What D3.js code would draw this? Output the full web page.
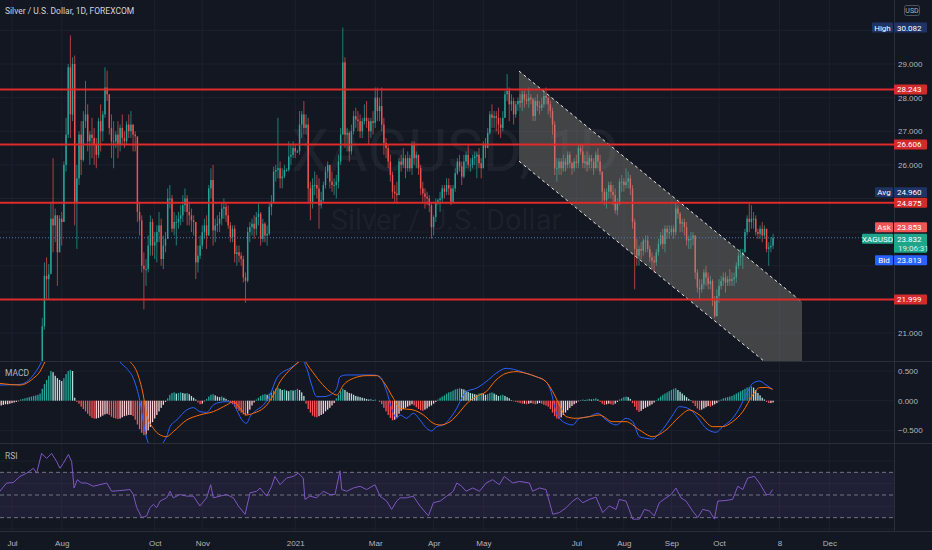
<!DOCTYPE html>
<html>
<head>
<meta charset="utf-8">
<title>XAGUSD 1D - FOREXCOM</title>
<script src="https://d3js.org/d3.v7.min.js"></script>
<style>
body { margin: 0; background: #131722; }
svg { display: block; font-family: Roboto, "Noto Sans", sans-serif; }
.axisText { fill: #b2b5be; font-size: 8px; }
.tagText { font-size: 8px; fill: #ffffff; }
</style>
</head>
<body>
<svg id="chart" width="932" height="550"></svg>
<script>

// ---- data: daily bars from 2020-06-24 (bar -5) to 2021-11-05 (bar 352) ----
var firstBar = -5;
var firstOpen = 17.65;

var closes = [
  17.70,17.85,17.75,17.90,18.20,
  // Jul 2020
  17.80,18.05,18.05,18.30,18.20,18.70,18.65,18.75,19.10,19.35,19.50,19.30,19.70,19.85,21.20,22.70,22.60,22.75,24.40,24.20,24.50,23.40,24.40,
  // Aug
  24.30,26.00,26.90,28.90,27.50,29.00,24.90,25.60,26.90,26.15,27.30,27.50,26.70,26.90,26.80,26.60,26.30,27.30,27.00,27.50,28.30,
  // Sep
  28.10,27.10,26.70,26.70,26.90,26.60,27.10,26.80,26.70,27.20,27.00,27.20,26.90,26.85,24.60,24.35,23.00,22.90,22.90,23.60,24.30,23.60,
  // Oct
  23.70,24.00,24.20,23.20,23.60,23.80,25.00,25.00,24.10,24.30,24.30,24.40,24.50,24.80,25.00,24.60,24.50,24.35,24.30,23.10,23.30,23.60,
  // Nov
  24.00,24.20,23.90,25.30,25.55,24.05,24.20,24.25,24.40,24.70,24.75,24.50,24.20,23.85,24.10,23.35,23.40,23.30,23.20,22.65,22.55,
  // Dec
  24.00,24.15,24.25,24.10,24.45,24.55,23.80,24.25,23.90,23.95,24.75,24.90,25.80,25.85,25.90,25.60,25.65,25.85,25.85,26.25,26.30,26.50,26.40,
  // Jan 2021
  26.40,27.20,27.50,27.10,27.20,25.30,24.90,25.40,25.40,25.30,24.80,24.95,25.40,25.80,26.00,25.50,25.40,25.40,25.50,26.10,26.90,
  // Feb
  29.05,26.90,26.95,26.40,27.00,27.45,27.35,27.30,27.00,27.30,27.40,27.30,27.00,27.30,27.25,28.00,27.60,27.75,27.20,26.65,
  // Mar
  26.50,26.10,25.70,25.20,25.15,25.10,26.10,26.00,26.20,25.90,26.20,25.90,26.60,26.20,26.30,25.90,25.30,25.15,25.05,25.00,24.80,24.15,24.45,
  // Apr
  24.90,24.95,25.00,25.30,25.20,25.40,25.30,24.90,25.30,25.75,26.10,25.95,25.65,26.10,26.30,26.00,26.00,26.20,26.25,26.30,26.05,25.90,
  // May
  26.60,26.50,26.95,27.50,27.40,27.45,27.40,27.20,27.10,27.40,28.10,28.20,27.80,27.90,27.50,27.80,27.90,27.85,28.10,27.95,27.90,
  // Jun
  28.00,27.95,27.45,27.90,27.75,27.70,27.80,28.05,28.00,27.80,27.60,27.20,25.90,25.90,26.10,25.90,26.10,26.00,26.30,26.05,25.90,26.10,
  // Jul
  26.05,26.50,26.40,26.05,26.10,26.00,26.20,26.10,25.90,26.30,26.10,25.80,25.20,24.95,25.20,25.40,25.20,25.10,24.65,24.85,25.50,25.50,
  // Aug
  25.40,25.50,25.60,25.30,24.30,23.50,23.30,23.50,23.45,23.75,23.75,23.50,23.25,23.15,23.10,23.40,23.65,23.90,23.65,24.10,24.00,24.00,
  // Sep
  24.10,24.00,24.70,24.55,24.25,24.30,24.15,23.75,23.80,23.80,23.90,22.80,22.35,22.30,22.45,22.80,22.65,22.45,22.55,21.95,21.50,22.10,
  // Oct
  22.40,22.55,22.65,22.50,22.60,22.55,22.60,22.65,23.00,23.30,23.30,23.40,24.00,24.40,24.30,24.40,24.40,24.00,23.95,24.10,23.90,
  // Nov
  24.10,23.50,23.55,23.60,23.832
];

var highs = [
  17.95,17.95,17.95,17.95,18.30,
  18.20,18.20,18.15,18.45,18.40,18.90,19.00,18.80,19.30,19.40,19.60,19.60,19.80,19.95,21.45,23.10,23.25,23.05,24.90,26.20,24.70,24.50,24.50,
  24.60,26.10,27.40,29.00,29.85,29.20,29.25,26.00,27.00,27.30,27.60,28.50,27.80,27.00,27.40,27.10,26.80,27.40,27.80,27.60,28.90,
  28.80,28.10,27.50,27.30,27.00,27.30,27.20,27.50,27.00,27.30,27.50,27.60,27.20,27.00,26.80,24.90,24.50,23.40,23.20,23.90,24.50,24.40,
  24.00,24.20,24.60,24.40,23.90,24.00,25.30,25.40,25.10,24.60,24.50,24.60,24.80,25.10,25.30,25.10,24.90,24.70,24.50,24.30,23.60,23.90,
  24.20,24.40,24.50,25.40,25.90,26.00,24.40,24.50,24.60,24.90,25.00,24.90,24.80,24.30,24.20,24.20,23.60,23.60,23.40,23.30,22.80,
  24.15,24.30,24.40,24.50,24.60,24.85,24.60,24.40,24.30,24.20,24.85,25.10,25.95,26.00,27.40,26.10,25.90,26.00,25.90,26.70,26.60,26.70,26.60,
  26.45,27.60,27.60,27.90,27.50,27.40,25.50,25.60,25.80,25.70,25.60,25.20,25.50,25.95,26.10,26.00,25.80,25.60,25.70,26.30,27.10,
  30.082,29.20,27.10,27.00,27.20,27.60,27.70,27.60,27.50,27.40,27.80,27.90,27.40,27.40,27.60,28.30,28.30,28.00,28.30,27.40,
  26.80,26.60,26.30,25.80,25.40,25.50,26.20,26.30,26.50,26.30,26.40,26.30,26.70,26.70,26.40,26.30,26.00,25.50,25.30,25.20,25.10,24.90,24.50,
  25.00,25.00,25.20,25.40,25.40,25.60,25.60,25.40,25.40,25.90,26.20,26.30,26.10,26.30,26.40,26.60,26.20,26.30,26.40,26.40,26.50,26.20,
  26.70,26.80,27.10,27.60,27.80,27.60,27.60,27.70,27.40,27.60,28.20,28.70,28.30,28.10,28.00,27.90,28.00,28.10,28.20,28.20,28.10,
  28.30,28.10,28.00,28.00,28.10,27.90,28.00,28.20,28.30,28.00,27.90,27.70,27.30,26.20,26.20,26.20,26.30,26.20,26.40,26.40,26.10,26.20,
  26.30,26.60,26.60,26.60,26.30,26.40,26.30,26.30,26.20,26.40,26.50,26.30,25.80,25.30,25.30,25.50,25.50,25.40,25.30,25.00,25.60,25.70,
  25.60,25.90,25.80,25.70,25.40,24.40,23.80,23.60,23.70,23.80,23.90,23.90,23.60,23.40,23.30,23.50,23.80,24.00,24.10,24.20,24.20,24.20,
  24.20,24.20,24.90,24.80,24.60,24.40,24.40,24.30,23.90,24.00,24.00,23.90,22.90,22.60,22.60,22.90,23.00,22.80,22.70,22.60,22.10,22.30,
  22.60,22.70,22.80,22.80,22.70,22.90,22.80,22.80,23.10,23.40,23.50,23.50,24.10,24.50,24.85,24.80,24.60,24.50,24.10,24.20,24.30,
  24.20,24.10,23.70,23.85,23.95
];

var lows = [
  17.60,17.55,17.65,17.70,17.80,
  17.70,17.80,17.95,17.95,18.05,18.10,18.50,18.45,18.70,18.90,19.20,19.10,19.20,19.60,19.80,21.10,22.00,22.00,22.80,23.40,23.70,22.40,23.40,
  23.60,24.30,25.80,26.80,26.80,27.30,24.20,23.50,25.40,25.70,26.10,27.10,26.40,26.00,26.20,26.00,25.90,26.20,26.40,26.70,27.40,
  27.90,26.90,26.20,25.90,26.50,26.20,26.40,26.60,26.50,26.60,26.80,26.80,26.40,26.40,24.30,23.90,22.80,21.70,22.40,22.80,23.30,23.30,
  23.20,23.10,23.70,23.00,22.90,23.40,23.80,24.70,24.00,23.90,23.60,24.10,24.20,24.30,24.60,24.20,24.20,24.00,23.90,22.60,22.80,23.20,
  23.50,23.80,23.50,23.90,25.00,23.60,23.70,24.00,24.00,24.20,24.40,24.30,24.10,23.70,23.70,23.10,23.00,23.10,23.00,22.50,21.90,
  22.50,23.70,23.90,23.80,23.90,24.20,23.60,23.70,23.70,23.60,23.90,24.50,24.90,25.50,25.60,25.30,25.30,25.60,25.80,25.80,26.00,26.20,26.20,
  26.35,26.30,26.80,26.90,26.90,24.90,24.35,24.70,25.10,25.00,24.10,24.70,24.90,25.30,25.60,25.30,25.20,25.10,25.00,25.30,26.00,
  26.90,26.50,26.40,26.10,26.30,26.90,27.10,27.00,26.80,26.80,27.20,27.10,26.60,26.80,26.90,27.10,27.30,27.30,27.00,26.30,
  26.20,25.90,25.50,25.00,24.90,24.85,25.10,25.80,25.90,25.60,25.80,25.80,25.70,26.00,25.90,25.70,25.10,24.90,24.70,24.80,24.60,23.80,23.90,
  24.30,24.80,24.60,24.90,25.00,25.10,25.10,24.80,24.90,25.20,25.70,25.80,25.40,25.60,25.90,25.90,25.80,25.90,26.00,25.60,25.90,25.60,
  25.90,26.20,26.50,26.90,27.10,27.10,27.00,26.90,26.80,27.00,27.40,27.90,27.30,27.60,27.20,27.40,27.60,27.70,27.60,27.70,27.80,
  27.70,27.80,27.30,27.30,27.60,27.50,27.60,27.70,27.80,27.50,27.40,26.90,25.70,25.50,25.70,25.70,25.80,25.80,25.90,25.90,25.70,25.80,
  25.90,25.90,26.30,25.90,25.90,25.80,25.90,25.90,25.70,25.90,25.90,25.70,24.90,24.80,24.70,25.00,25.00,24.80,24.55,24.50,24.80,25.20,
  25.20,25.30,25.30,25.10,24.10,22.30,23.00,23.00,23.20,23.30,23.40,23.40,23.10,22.90,22.80,23.00,23.30,23.60,23.50,23.40,23.80,23.80,
  23.90,23.80,23.90,24.40,24.00,24.00,23.90,23.60,23.50,23.50,23.60,22.60,22.20,22.00,22.20,22.30,22.40,22.30,22.30,21.80,21.45,21.50,
  21.90,22.30,22.40,22.20,22.40,22.40,22.40,22.40,22.50,22.90,23.00,22.90,23.40,23.90,24.00,24.10,24.10,23.90,23.80,23.80,23.70,
  23.80,23.40,23.00,23.40,23.50
];

// MACD histogram, one value per bar
var macdHist = [
  -0.08,-0.07,-0.06,-0.06,-0.05,
  -0.04,-0.03,-0.02,-0.01,
  0.02,0.03,0.04,0.05,0.06,0.07,0.08,0.09,0.10,0.12,
  0.20,0.28,0.35,0.42,0.50,0.48,
  0.42,0.38,0.35,0.33,
  0.38,0.45,0.50,0.52,0.50,
  0.05,-0.02,
  -0.05,-0.10,-0.14,-0.18,-0.22,-0.26,-0.29,-0.30,-0.30,-0.29,
  -0.27,-0.25,-0.23,-0.22,-0.24,-0.27,
  -0.29,-0.30,-0.31,-0.30,-0.28,-0.26,
  -0.25,-0.24,-0.24,-0.26,
  -0.32,-0.40,-0.48,-0.54,-0.58,-0.57,
  -0.50,-0.44,-0.36,-0.30,-0.24,-0.18,-0.12,-0.07,-0.02,
  0.04,0.10,0.13,0.14,0.12,0.13,0.14,0.13,0.12,0.13,0.11,0.08,0.05,0.02,
  -0.03,-0.06,-0.05,
  -0.01,0.03,0.07,0.10,0.11,0.09,0.07,0.06,0.07,0.05,0.03,0.01,
  -0.03,-0.06,-0.10,-0.14,-0.17,-0.20,-0.23,-0.25,-0.22,-0.15,
  -0.08,-0.03,0.02,0.05,0.08,0.10,0.11,0.10,0.12,
  0.14,0.17,0.20,0.22,0.20,0.18,0.19,0.17,0.16,0.18,0.17,0.18,0.20,0.18,0.14,0.08,
  -0.05,-0.14,-0.20,-0.25,-0.27,-0.28,-0.26,-0.24,-0.22,-0.18,-0.15,-0.12,-0.08,-0.04,
  0.04,0.10,0.16,0.20,0.18,0.15,0.13,0.12,0.10,0.08,0.07,0.06,0.05,0.04,
  0.03,0.02,0.03,0.01,0.02,0.00,-0.02,
  -0.06,-0.12,-0.18,-0.24,-0.29,-0.33,-0.32,-0.28,-0.22,-0.17,
  -0.14,-0.12,-0.10,-0.08,-0.06,-0.08,
  -0.11,-0.14,-0.16,-0.17,-0.15,-0.13,-0.10,-0.08,-0.05,-0.02,
  0.02,0.05,0.07,0.09,0.12,0.14,0.15,0.17,0.19,0.20,0.21,0.20,0.19,0.17,
  0.15,0.13,0.12,0.11,
  0.10,0.12,0.13,0.12,0.10,0.11,0.13,0.14,0.12,0.10,0.08,0.09,0.10,0.08,0.06,0.04,
  0.01,-0.01,-0.02,-0.03,-0.04,-0.05,-0.05,-0.06,-0.05,-0.04,-0.05,-0.06,-0.05,-0.04,-0.05,-0.07,-0.08,-0.10,-0.14,
  -0.20,-0.26,-0.30,-0.31,-0.28,-0.24,-0.20,-0.16,-0.12,-0.09,-0.06,-0.04,
  -0.01,0.01,0.02,0.01,0.02,0.03,0.02,0.03,0.04,0.02,
  -0.02,-0.05,-0.07,-0.06,-0.05,-0.06,-0.07,-0.05,-0.02,
  0.02,0.04,0.06,0.07,0.06,0.03,
  -0.04,-0.10,-0.16,-0.19,-0.17,-0.14,-0.12,-0.10,-0.08,-0.06,-0.03,
  0.01,0.04,0.07,0.10,0.12,0.14,0.16,0.18,0.20,0.21,0.18,0.15,0.12,0.09,0.06,0.03,0.01,
  -0.04,-0.09,-0.13,-0.16,-0.15,-0.13,-0.11,-0.09,-0.10,-0.08,-0.06,-0.04,-0.01,
  0.02,0.04,0.05,0.06,0.07,0.08,0.10,0.12,0.14,0.16,0.18,0.20,0.22,0.23,0.24,0.22,0.18,0.13,
  0.09,0.05,0.02,-0.02,-0.04,-0.04,-0.03
];

// MACD and signal lines, read as [bar, value]
var macdLine = [
  [-5.6,0.264],[3.7,0.275],[9.9,0.433],[12.9,0.601],[16,0.85],[20,1.15],[25,1.4],[28,1.5],[32,1.35],[38,1.2],[44,1.05],[48,0.8],
  [49.9,0.657],[53,0.545],[56.1,0.377],[57.7,0.208],[59.2,-0.016],[60.7,-0.353],[62.3,-0.633],[63.8,-0.75],[66.9,-0.78],[70,-0.70],
  [71.5,-0.605],[73.1,-0.437],[76.2,-0.325],[80.8,-0.156],[83.9,-0.117],[86.9,-0.184],[90,-0.196],[93.1,-0.072],[96.2,-0.027],
  [99.3,-0.016],[102.4,-0.044],[103.9,-0.156],[107,-0.353],[108.5,-0.381],[110.1,-0.268],[113.2,-0.156],[116.3,-0.072],[119.3,0.096],
  [122.4,0.377],[125.5,0.489],[128.6,0.545],[131.7,0.629],[134,0.69],[136.3,0.545],[138.6,0.264],[140.9,0.068],[144,0.068],
  [147.1,0.096],[150.2,0.208],[151.7,0.405],[154.8,0.433],[161,0.433],[167.1,0.433],[170.2,0.405],[173.3,0.152],[176.4,-0.212],
  [177.9,-0.297],[179.5,-0.240],[182.5,-0.297],[185.6,-0.212],[188.7,-0.325],[191.8,-0.465],[194.1,-0.510],[196.4,-0.437],
  [199.5,-0.409],[202.6,-0.297],[205.7,-0.128],[208.8,0.096],[210,0.152],[214.6,0.208],[219.3,0.320],[223.9,0.461],[228.5,0.545],
  [233.1,0.517],[237.8,0.461],[242.4,0.405],[247,0.320],[249.3,0.152],[251.6,-0.184],[253.9,-0.325],[256.3,-0.381],[259.3,-0.409],
  [262.4,-0.297],[267,-0.268],[270.9,-0.212],[274.8,-0.325],[279.4,-0.409],[284,-0.297],[287.1,-0.353],[290.2,-0.605],[293.3,-0.633],
  [296.3,-0.645],[299.4,-0.549],[302.5,-0.409],[305.6,-0.240],[308.7,-0.100],[311.8,-0.117],[314.8,-0.184],[317.9,-0.325],
  [321,-0.465],[325.6,-0.532],[328.7,-0.437],[333.3,-0.297],[336.4,-0.128],[339.5,0.096],[342.6,0.292],[345.7,0.331],[348.8,0.264],[351.8,0.191]
];

var signalLine = [
  [-5.6,0.292],[3.7,0.264],[9.9,0.377],[12.9,0.489],[15.3,0.657],[20,0.9],[25,1.1],[30,1.25],[35,1.25],[40,1.15],[45,1.0],[50,0.82],
  [54.6,0.657],[57.7,0.489],[60.7,0.096],[62.3,-0.240],[65.4,-0.465],[68.5,-0.577],[71.5,-0.605],[74.6,-0.521],[80.8,-0.325],
  [86.9,-0.240],[93.1,-0.184],[99.3,-0.072],[102.4,-0.016],[105.5,-0.128],[108.5,-0.240],[111.6,-0.212],[117.8,-0.072],[120.9,0.096],
  [124,0.320],[127,0.461],[130.1,0.573],[134.7,0.68],[137.8,0.545],[142.5,0.320],[147.1,0.152],[150.2,0.096],[153.3,0.264],
  [157.9,0.377],[164,0.422],[168.7,0.422],[171.8,0.320],[176.4,0.040],[179.5,-0.128],[185.6,-0.156],[190.3,-0.240],[194.9,-0.381],
  [198,-0.409],[202.6,-0.353],[207.2,-0.184],[210,-0.061],[214.6,0.068],[219.3,0.152],[223.9,0.348],[228.5,0.461],[233.1,0.489],
  [237.8,0.461],[242.4,0.405],[247,0.320],[250.1,0.152],[253.2,-0.072],[256.3,-0.268],[260.9,-0.297],[267,-0.268],[271.7,-0.240],
  [277.8,-0.353],[284,-0.353],[290.2,-0.493],[296.3,-0.605],[302.5,-0.493],[308.7,-0.268],[313.3,-0.156],[317.9,-0.240],
  [324.1,-0.437],[328.7,-0.437],[333.3,-0.353],[338,-0.184],[342.6,0.096],[345.7,0.219],[348.8,0.224],[351.8,0.191]
];

// RSI(14), read as [bar, value]
var rsiLine = [
  [-5.6,53.3],[-2.5,60.6],[0.6,61],[3.7,66.4],[6.8,69.3],[9.9,73.6],[11.4,69.3],[13.7,86.7],[16,82.3],[18.3,86.7],[20.7,79.4],
  [22.2,73.6],[23.7,77.9],[26.1,85.8],[27.6,79.4],[28.7,56.2],[30.2,63.5],[32.2,60.6],[34.5,60.6],[37.6,57.7],[40.7,59.1],
  [43.8,60.6],[46.1,53.3],[49.9,53.9],[54.6,54.8],[56.1,50.4],[57.7,38.8],[60,30.1],[62.3,31.6],[63.8,38.8],[65.4,41.7],
  [66.9,38.8],[68.5,44.6],[71.5,47.5],[73.1,53.3],[74.6,47.5],[77.7,50.4],[80.8,49],[83.9,49],[86.9,40.3],[90,47.5],[91.9,59.1],
  [93.1,47.5],[96.2,49],[99.3,50.4],[102.4,47.5],[104.7,40.3],[107.8,33],[110.1,51.9],[113.2,53.3],[114.7,56.2],[117.8,49],
  [120.1,57.7],[121.6,66.4],[124,59.1],[127,65],[130.1,66.4],[132.4,69.3],[134.7,65],[135.5,46.1],[137.8,49],[140.9,47.5],
  [144,53.3],[147.1,50.4],[149.4,50.4],[151.7,71.4],[152.5,54.8],[154.8,53.3],[157.9,56.2],[161,57.7],[164,54.8],[167.9,59.1],
  [170.2,49],[173.3,44.6],[175.6,37.3],[177.9,44.6],[179.5,47.5],[182.5,47.5],[185.6,49],[188.7,40.3],[192.6,31.6],[194.9,43.2],
  [198,44.6],[201.1,49],[204.1,53.3],[205.7,60.6],[208,57.7],[210,53.3],[213.1,56.2],[216.2,53.3],[219.3,60.6],[222.3,63.5],
  [225.4,59.1],[227.7,66.4],[231.6,60.6],[234.7,62],[239.3,60.6],[240.8,53.3],[243.9,56.2],[247,54.8],[250.1,33],[253.2,34.5],
  [256.3,38.8],[259.3,44.6],[261.6,47.5],[264,43.2],[267,46.1],[270.1,48.1],[273.2,34.5],[276.3,40.3],[279.4,37.3],[280.9,46.1],
  [284,44.6],[287.1,28.7],[290.2,28.7],[292.5,37.3],[294.8,35.9],[297.1,31.6],[299.4,43.2],[302.5,47.5],[304.8,50.4],[307.1,56.2],
  [309.4,47.5],[311.8,44.6],[314.8,35.9],[317.2,30.1],[319.5,37.3],[322.6,35.9],[324.9,28.7],[326.4,44.6],[330.3,45.2],[333.3,46.1],
  [335.7,57.7],[338,54.8],[340.3,65],[343.4,66.4],[345.7,60.6],[348.8,50.4],[350.3,50.4],[351.8,54.8]
];

// axis ticks
var timeTicks = [0, 23, 66, 88, 131, 168, 195, 218, 261, 283, 305, 327, 355, 378];
var timeLabels = ['Jul', 'Aug', 'Oct', 'Nov', '2021', 'Mar', 'Apr', 'May', 'Jul', 'Aug', 'Sep', 'Oct', '8', 'Dec'];
var priceTicks = [21, 22, 23, 24, 25, 26, 27, 28, 29, 30];
var macdTicks = [-0.5, 0, 0.5];
var rsiTicks = [20, 40, 60, 80];
var rsiBands = [70, 50, 30];

// drawings
var levels = [28.243, 26.606, 24.875, 21.999];
var channelBars = [234.5, 365.4];
var channelUpper = [28.79, 21.92];
var channelLower = [26.11, 19.24];

var lastPrice = 23.832, askPrice = 23.853, bidPrice = 23.813, highPrice = 30.082, avgPrice = 24.960;

// ---- layout ----
var W = 932, H = 550, axisX = 894;
var mainTop = 0, mainBottom = 361, macdBottom = 443, rsiBottom = 531;

var x = d3.scaleLinear().domain([0, 327]).range([12, 719]);
var y = d3.scaleLinear().domain([21, 29]).range([333, 64]);
var yM = d3.scaleLinear().domain([-0.5, 0.5]).range([430.4, 371.0]);
var yR = d3.scaleLinear().domain([20, 80]).range([529, 461]);
var step = x(1) - x(0);

var svg = d3.select('#chart');
svg.append('rect').attr('width', W).attr('height', H).attr('fill', '#131722');

var defs = svg.append('defs');
function clip(id, x0, y0, w, h) {
  defs.append('clipPath').attr('id', id).append('rect').attr('x', x0).attr('y', y0).attr('width', w).attr('height', h);
}
clip('cMain', 0, mainTop, axisX, mainBottom - mainTop);
clip('cMacd', 0, mainBottom, axisX, macdBottom - mainBottom);
clip('cRsi', 0, macdBottom, axisX, rsiBottom - macdBottom);
clip('cRsiAxis', axisX, macdBottom, W - axisX, rsiBottom - macdBottom);

// grid
var grid = svg.append('g').attr('stroke', '#1d212d').attr('stroke-width', 1);
grid.selectAll('.vg').data(timeTicks).join('line')
  .attr('x1', d => x(d)).attr('x2', d => x(d)).attr('y1', 0).attr('y2', rsiBottom);
grid.selectAll('.hg').data(priceTicks).join('line')
  .attr('x1', 0).attr('x2', axisX).attr('y1', d => y(d)).attr('y2', d => y(d));
grid.selectAll('.mg').data(macdTicks).join('line')
  .attr('x1', 0).attr('x2', axisX).attr('y1', d => yM(d)).attr('y2', d => yM(d));
grid.selectAll('.rg').data(rsiTicks).join('line')
  .attr('x1', 0).attr('x2', axisX).attr('y1', d => yR(d)).attr('y2', d => yR(d))
  .attr('clip-path', 'url(#cRsi)');

// watermark
var wm = svg.append('g').attr('fill', '#b2b5be').attr('fill-opacity', 0.07).attr('text-anchor', 'middle');
wm.append('text').attr('x', 455).attr('y', 171).attr('font-size', 60).text('XAGUSD, 1D');
wm.append('text').attr('x', 446).attr('y', 230).attr('font-size', 29).text('Silver / U.S. Dollar');

// candles
var bars = closes.map(function(c, i) {
  return { pos: firstBar + i, o: i ? closes[i - 1] : firstOpen, h: highs[i], l: lows[i], c: c };
});
var upCol = '#26a69a', downCol = '#ef5350';
var gMain = svg.append('g').attr('clip-path', 'url(#cMain)');
gMain.selectAll('line.wick').data(bars).join('line')
  .attr('class', 'wick')
  .attr('x1', d => x(d.pos)).attr('x2', d => x(d.pos))
  .attr('y1', d => y(d.h)).attr('y2', d => y(d.l))
  .attr('stroke', d => d.c >= d.o ? upCol : downCol).attr('stroke-width', 0.7);
gMain.selectAll('rect.body').data(bars).join('rect')
  .attr('class', 'body')
  .attr('x', d => x(d.pos) - step * 0.33)
  .attr('width', step * 0.66)
  .attr('y', d => y(Math.max(d.o, d.c)))
  .attr('height', d => Math.max(1, Math.abs(y(d.o) - y(d.c))))
  .attr('fill', d => d.c >= d.o ? upCol : downCol);

// parallel channel
var chPts = [
  [x(channelBars[0]), y(channelUpper[0])], [x(channelBars[1]), y(channelUpper[1])],
  [x(channelBars[1]), y(channelLower[1])], [x(channelBars[0]), y(channelLower[0])]
];
gMain.append('polygon').attr('points', chPts.map(p => p.join(',')).join(' '))
  .attr('fill', 'rgb(150,151,136)').attr('fill-opacity', 0.36);
[channelUpper, channelLower].forEach(function(arr) {
  gMain.append('line')
    .attr('x1', x(channelBars[0])).attr('y1', y(arr[0]))
    .attr('x2', x(channelBars[1])).attr('y2', y(arr[1]))
    .attr('stroke', '#e6e6e6').attr('stroke-width', 1).attr('stroke-dasharray', '3,3');
});

// horizontal levels
gMain.selectAll('line.level').data(levels).join('line')
  .attr('class', 'level')
  .attr('x1', 0).attr('x2', axisX).attr('y1', d => y(d)).attr('y2', d => y(d))
  .attr('stroke', '#e02b2b').attr('stroke-width', 2);

// current price line
gMain.append('line').attr('x1', 0).attr('x2', axisX).attr('y1', y(lastPrice)).attr('y2', y(lastPrice))
  .attr('stroke', '#4f78b8').attr('stroke-width', 1).attr('stroke-dasharray', '1,2');

// ---- MACD pane ----
var gMacd = svg.append('g').attr('clip-path', 'url(#cMacd)');
gMacd.selectAll('rect').data(macdHist).join('rect')
  .attr('x', (d, i) => x(firstBar + i) - step * 0.3)
  .attr('width', step * 0.6)
  .attr('y', d => Math.min(yM(d), yM(0)))
  .attr('height', d => Math.abs(yM(d) - yM(0)))
  .attr('fill', function(d, i) {
    var prev = i ? macdHist[i - 1] : d;
    if (d >= 0) return d >= prev ? '#26a69a' : '#b2dfdb';
    return d < prev ? '#ff5252' : '#ffcdd2';
  });
var lineM = d3.line().x(d => x(d[0])).y(d => yM(d[1])).curve(d3.curveMonotoneX);
gMacd.append('path').datum(macdLine).attr('d', lineM).attr('fill', 'none').attr('stroke', '#2962ff').attr('stroke-width', 1);
gMacd.append('path').datum(signalLine).attr('d', lineM).attr('fill', 'none').attr('stroke', '#ff6d00').attr('stroke-width', 1);

// ---- RSI pane ----
var gRsi = svg.append('g').attr('clip-path', 'url(#cRsi)');
gRsi.append('rect').attr('x', 0).attr('width', axisX).attr('y', yR(70)).attr('height', yR(30) - yR(70))
  .attr('fill', '#7e57c2').attr('fill-opacity', 0.12);
gRsi.selectAll('line.band').data(rsiBands).join('line')
  .attr('class', 'band')
  .attr('x1', 0).attr('x2', axisX).attr('y1', d => yR(d)).attr('y2', d => yR(d))
  .attr('stroke', '#9598a1').attr('stroke-opacity', 0.7).attr('stroke-dasharray', '4,3');
var lineR = d3.line().x(d => x(d[0])).y(d => yR(d[1]));
gRsi.append('path').datum(rsiLine).attr('d', lineR).attr('fill', 'none').attr('stroke', '#7e57c2').attr('stroke-width', 1);

// separators
var sep = svg.append('g').attr('stroke', '#2a2e39').attr('stroke-width', 1);
[mainBottom, macdBottom, rsiBottom].forEach(function(v) {
  sep.append('line').attr('x1', 0).attr('x2', W).attr('y1', v + 0.5).attr('y2', v + 0.5);
});
sep.append('line').attr('x1', axisX + 0.5).attr('x2', axisX + 0.5).attr('y1', 0).attr('y2', rsiBottom);

// ---- price tags (positions first, so the axis can skip covered labels) ----
var navy = '#1e3466', red = '#d32a2a';
var avgY = y(levels[2]) - 10.5;
var lastY = y(lastPrice) + 1;
var tagYs = [y(highPrice), avgY, lastY - 11.5, lastY, lastY + 21.5].concat(levels.map(p => y(p)));

// ---- axes ----
function rightAxis(scale, ticks, fmt, clipId) {
  var g = svg.append('g').attr('transform', 'translate(' + (axisX + 2) + ',0)')
    .call(d3.axisRight(scale).tickValues(ticks).tickSize(0).tickPadding(2).tickFormat(fmt));
  g.select('.domain').remove();
  g.selectAll('text').attr('class', 'axisText').attr('fill', null);
  if (clipId) g.attr('clip-path', 'url(#' + clipId + ')');
  return g;
}
var visiblePriceTicks = priceTicks.filter(function(p) {
  return tagYs.every(function(t) { return Math.abs(t - y(p)) > 8; });
});
rightAxis(y, visiblePriceTicks, d3.format('.3f'));
rightAxis(yM, macdTicks, d3.format('.3f'));
rightAxis(yR, rsiTicks, d3.format('.2f'), 'cRsiAxis');

var xa = svg.append('g').attr('transform', 'translate(0,' + rsiBottom + ')')
  .call(d3.axisBottom(x).tickValues(timeTicks).tickSize(0).tickPadding(9).tickFormat((d, i) => timeLabels[i]));
xa.select('.domain').remove();
xa.selectAll('text').attr('class', 'axisText').attr('fill', null);

// pane titles
svg.append('text').attr('x', 5).attr('y', 14).attr('font-size', 8.5).attr('fill', '#d1d4dc')
  .text('Silver / U.S. Dollar, 1D, FOREXCOM');
svg.append('text').attr('x', 5).attr('y', 376).attr('font-size', 8.5).attr('fill', '#b2b5be').text('MACD');
svg.append('text').attr('x', 5).attr('y', 459).attr('font-size', 8.5).attr('fill', '#b2b5be').text('RSI');

function valueTag(yc, txt, bg, h) {
  h = h || 10;
  svg.append('rect').attr('x', axisX).attr('y', yc - 5).attr('width', 33).attr('height', h).attr('rx', 1).attr('fill', bg);
  svg.append('text').attr('class', 'tagText').attr('x', axisX + 3).attr('y', yc + 3).text(txt);
}
function nameTag(yc, txt, bg, w) {
  svg.append('rect').attr('x', axisX - 1 - w).attr('y', yc - 5).attr('width', w).attr('height', 10).attr('rx', 1).attr('fill', bg);
  svg.append('text').attr('class', 'tagText').attr('text-anchor', 'middle').attr('x', axisX - 1 - w / 2).attr('y', yc + 3).text(txt);
}
nameTag(y(highPrice), 'High', navy, 21);
valueTag(y(highPrice), highPrice.toFixed(3), navy);
levels.forEach(function(p) { valueTag(y(p), p.toFixed(3), red); });
nameTag(avgY, 'Avg', navy, 18);
valueTag(avgY, avgPrice.toFixed(3), navy);
nameTag(lastY - 11.5, 'Ask', '#f05454', 18);
valueTag(lastY - 11.5, askPrice.toFixed(3), '#f05454');
nameTag(lastY, 'XAGUSD', '#1ea58a', 31);
valueTag(lastY, lastPrice.toFixed(3), '#1ea58a', 19);
svg.append('text').attr('class', 'tagText').attr('x', axisX + 4).attr('y', lastY + 12.5).attr('font-size', 7.5)
  .attr('fill-opacity', 0.85).text('19:06:31');
nameTag(lastY + 21.5, 'Bid', '#2962ff', 18);
valueTag(lastY + 21.5, bidPrice.toFixed(3), '#2962ff');

// currency box
svg.append('rect').attr('x', 904.5).attr('y', 5.5).attr('width', 15).attr('height', 10).attr('rx', 2)
  .attr('fill', 'none').attr('stroke', '#50535e');
svg.append('text').attr('x', 912).attr('y', 13).attr('text-anchor', 'middle').attr('font-size', 7)
  .attr('fill', '#b2b5be').text('USD');

</script>
</body>
</html>
